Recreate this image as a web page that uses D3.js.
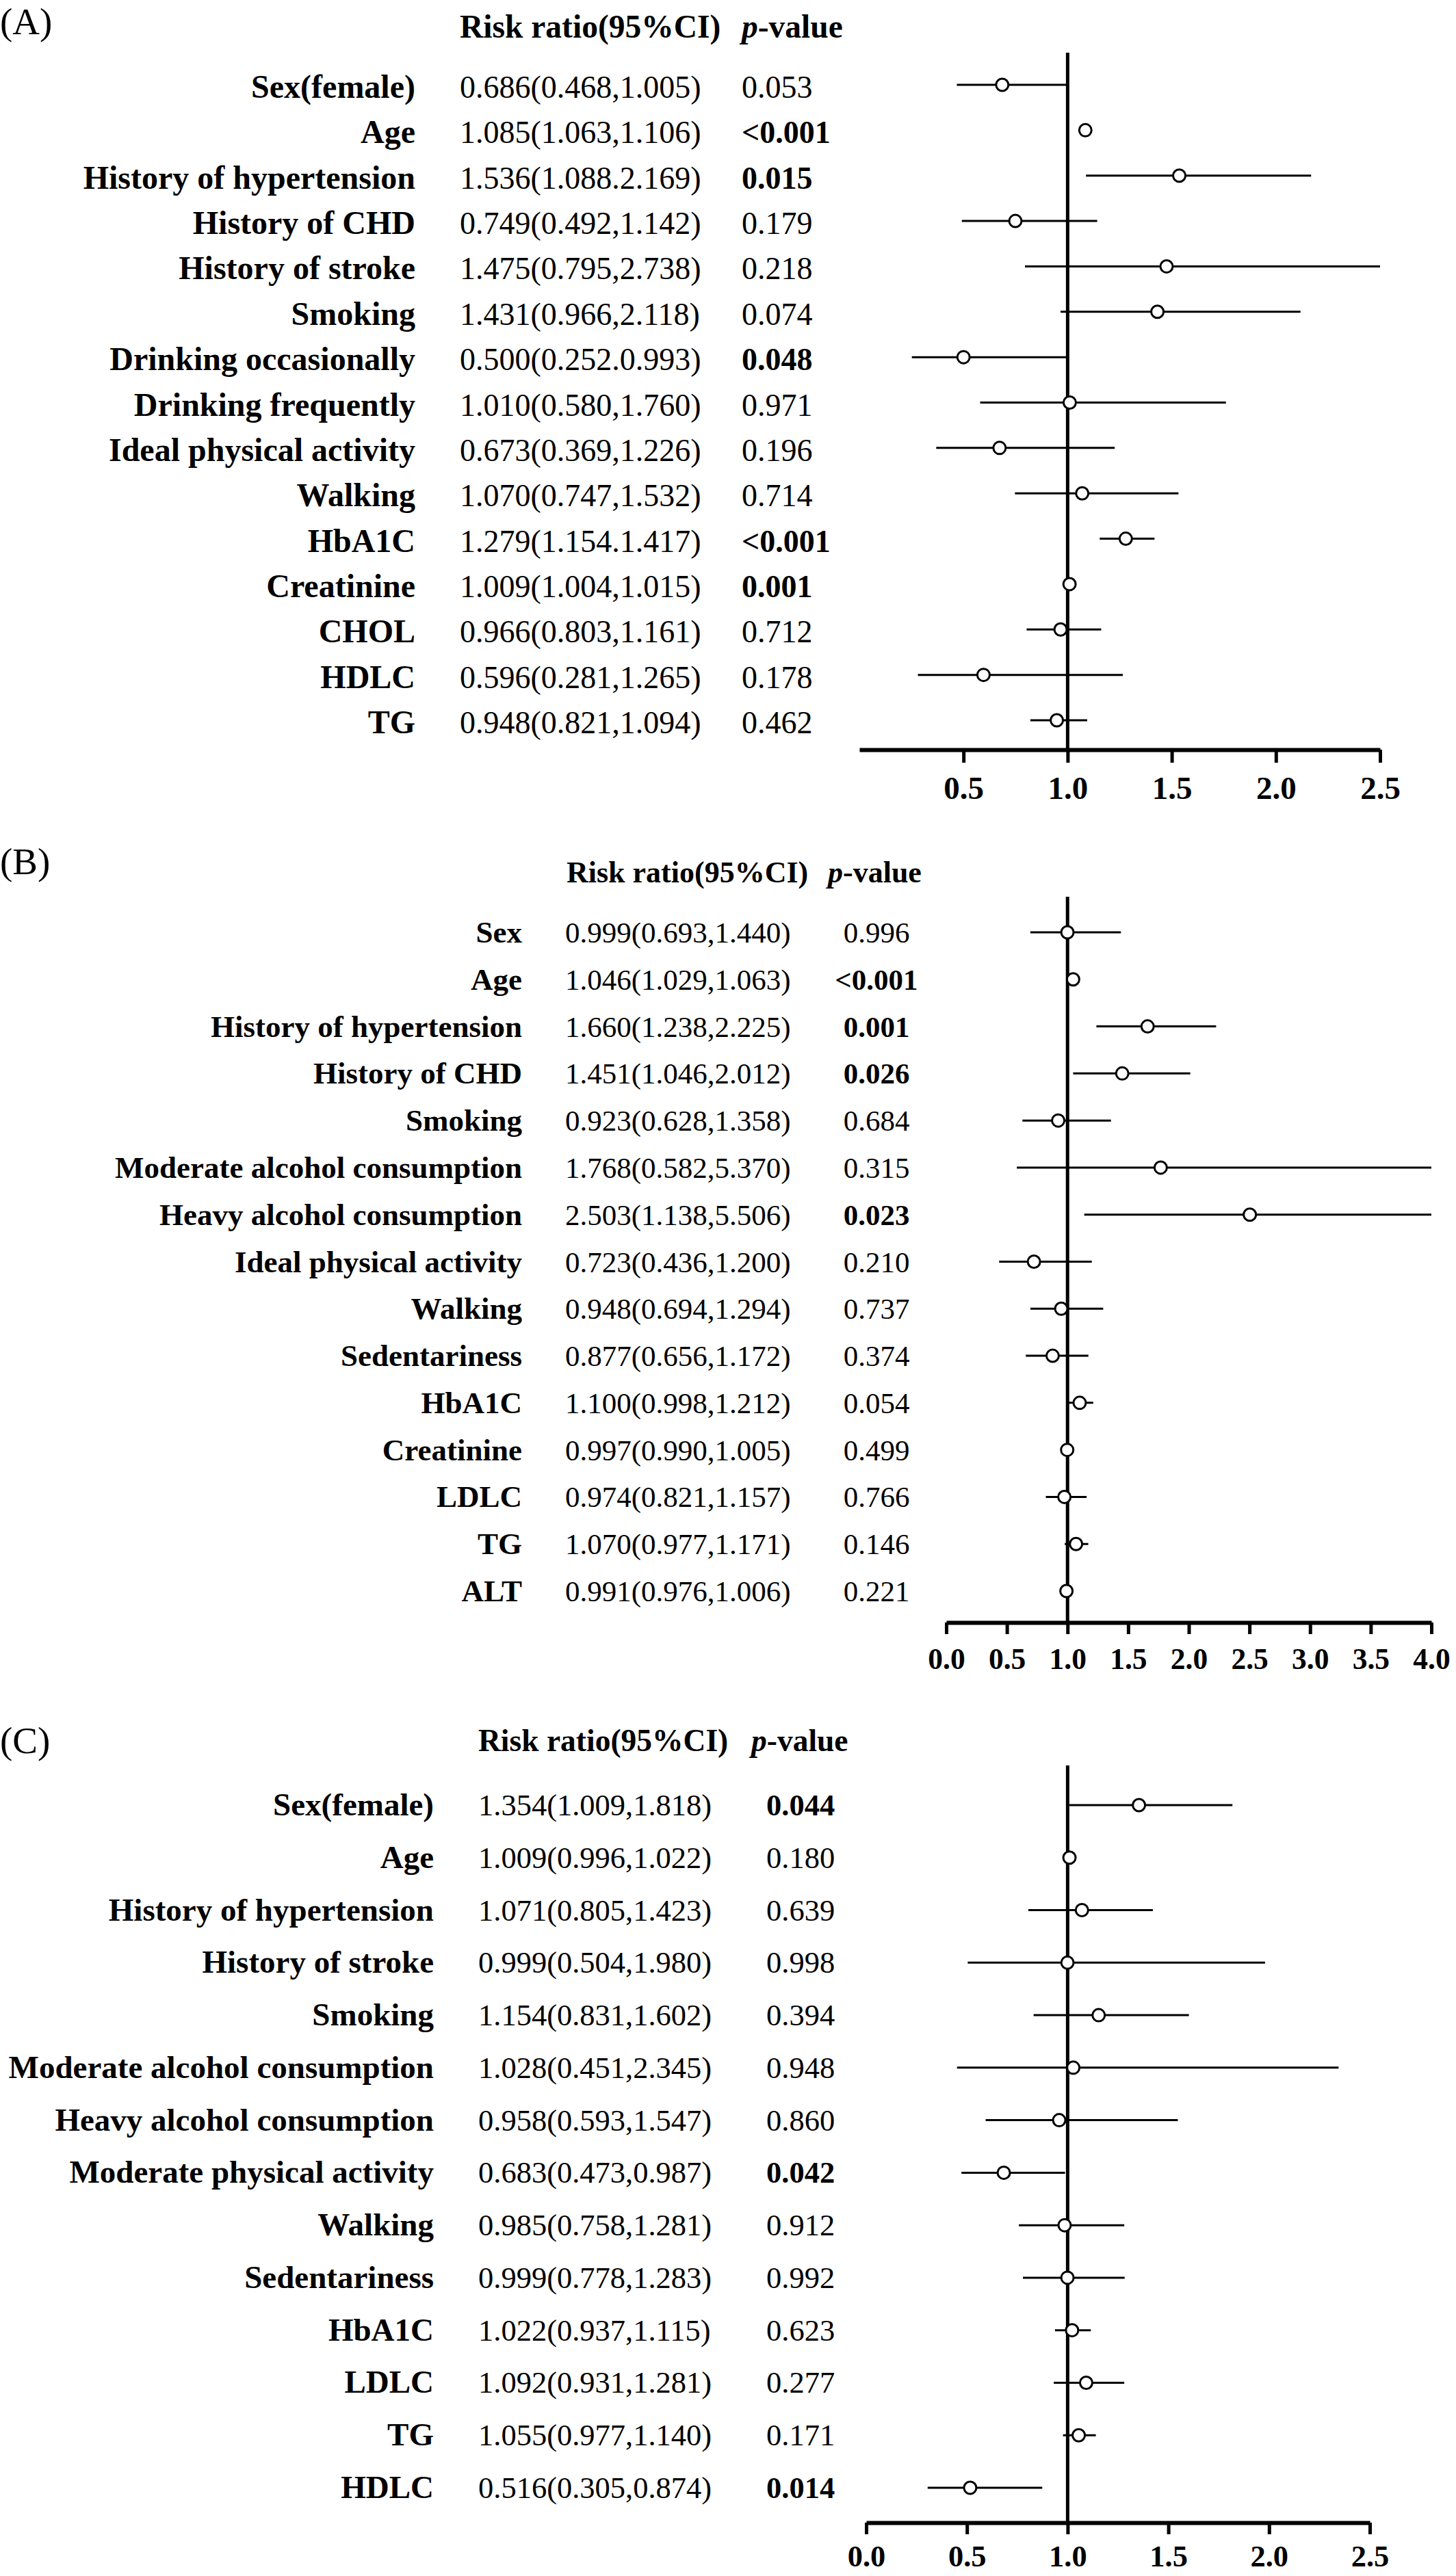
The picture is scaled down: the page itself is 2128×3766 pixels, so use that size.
<!DOCTYPE html>
<html>
<head>
<meta charset="utf-8">
<script src="https://cdn.jsdelivr.net/npm/d3@7/dist/d3.min.js"></script>
<style>
  body { margin: 0; background: #fff; }
  text { font-family: "Liberation Serif", "Times New Roman", serif; fill: #000; }
</style>
</head>
<body>
<div id="chartDiv"></div>
<script>
// ---- panel A data ----
const aLabels = ["Sex(female)", "Age", "History of hypertension", "History of CHD", "History of stroke",
  "Smoking", "Drinking occasionally", "Drinking frequently", "Ideal physical activity", "Walking",
  "HbA1C", "Creatinine", "CHOL", "HDLC", "TG"];
const aRR = [0.686, 1.085, 1.536, 0.749, 1.475, 1.431, 0.500, 1.010, 0.673, 1.070, 1.279, 1.009, 0.966, 0.596, 0.948];
const aLow = [0.468, 1.063, 1.088, 0.492, 0.795, 0.966, 0.252, 0.580, 0.369, 0.747, 1.154, 1.004, 0.803, 0.281, 0.821];
const aHigh = [1.005, 1.106, 2.169, 1.142, 2.738, 2.118, 0.993, 1.760, 1.226, 1.532, 1.417, 1.015, 1.161, 1.265, 1.094];
const aCI = ["0.686(0.468,1.005)", "1.085(1.063,1.106)", "1.536(1.088.2.169)", "0.749(0.492,1.142)",
  "1.475(0.795,2.738)", "1.431(0.966,2.118)", "0.500(0.252.0.993)", "1.010(0.580,1.760)",
  "0.673(0.369,1.226)", "1.070(0.747,1.532)", "1.279(1.154.1.417)", "1.009(1.004,1.015)",
  "0.966(0.803,1.161)", "0.596(0.281,1.265)", "0.948(0.821,1.094)"];
const aP = ["0.053", "<0.001", "0.015", "0.179", "0.218", "0.074", "0.048", "0.971", "0.196", "0.714",
  "<0.001", "0.001", "0.712", "0.178", "0.462"];
const aBold = [false, true, true, false, false, false, true, false, false, false, true, true, false, false, false];
const aTicks = [0.5, 1.0, 1.5, 2.0, 2.5];

// ---- panel B data ----
const bLabels = ["Sex", "Age", "History of hypertension", "History of CHD", "Smoking",
  "Moderate alcohol consumption", "Heavy alcohol consumption", "Ideal physical activity", "Walking",
  "Sedentariness", "HbA1C", "Creatinine", "LDLC", "TG", "ALT"];
const bRR = [0.999, 1.046, 1.660, 1.451, 0.923, 1.768, 2.503, 0.723, 0.948, 0.877, 1.100, 0.997, 0.974, 1.070, 0.991];
const bLow = [0.693, 1.029, 1.238, 1.046, 0.628, 0.582, 1.138, 0.436, 0.694, 0.656, 0.998, 0.990, 0.821, 0.977, 0.976];
const bHigh = [1.440, 1.063, 2.225, 2.012, 1.358, 5.370, 5.506, 1.200, 1.294, 1.172, 1.212, 1.005, 1.157, 1.171, 1.006];
const bCI = ["0.999(0.693,1.440)", "1.046(1.029,1.063)", "1.660(1.238,2.225)", "1.451(1.046,2.012)",
  "0.923(0.628,1.358)", "1.768(0.582,5.370)", "2.503(1.138,5.506)", "0.723(0.436,1.200)",
  "0.948(0.694,1.294)", "0.877(0.656,1.172)", "1.100(0.998,1.212)", "0.997(0.990,1.005)",
  "0.974(0.821,1.157)", "1.070(0.977,1.171)", "0.991(0.976,1.006)"];
const bP = ["0.996", "<0.001", "0.001", "0.026", "0.684", "0.315", "0.023", "0.210", "0.737", "0.374",
  "0.054", "0.499", "0.766", "0.146", "0.221"];
const bBold = [false, true, true, true, false, false, true, false, false, false, false, false, false, false, false];
const bTicks = [0.0, 0.5, 1.0, 1.5, 2.0, 2.5, 3.0, 3.5, 4.0];

// ---- panel C data ----
const cLabels = ["Sex(female)", "Age", "History of hypertension", "History of stroke", "Smoking",
  "Moderate alcohol consumption", "Heavy alcohol consumption", "Moderate physical activity", "Walking",
  "Sedentariness", "HbA1C", "LDLC", "TG", "HDLC"];
const cRR = [1.354, 1.009, 1.071, 0.999, 1.154, 1.028, 0.958, 0.683, 0.985, 0.999, 1.022, 1.092, 1.055, 0.516];
const cLow = [1.009, 0.996, 0.805, 0.504, 0.831, 0.451, 0.593, 0.473, 0.758, 0.778, 0.937, 0.931, 0.977, 0.305];
const cHigh = [1.818, 1.022, 1.423, 1.980, 1.602, 2.345, 1.547, 0.987, 1.281, 1.283, 1.115, 1.281, 1.140, 0.874];
const cCI = ["1.354(1.009,1.818)", "1.009(0.996,1.022)", "1.071(0.805,1.423)", "0.999(0.504,1.980)",
  "1.154(0.831,1.602)", "1.028(0.451,2.345)", "0.958(0.593,1.547)", "0.683(0.473,0.987)",
  "0.985(0.758,1.281)", "0.999(0.778,1.283)", "1.022(0.937,1.115)", "1.092(0.931,1.281)",
  "1.055(0.977,1.140)", "0.516(0.305,0.874)"];
const cP = ["0.044", "0.180", "0.639", "0.998", "0.394", "0.948", "0.860", "0.042", "0.912", "0.992",
  "0.623", "0.277", "0.171", "0.014"];
const cBold = [true, false, false, false, false, false, false, true, false, false, false, false, false, true];
const cTicks = [0.0, 0.5, 1.0, 1.5, 2.0, 2.5];

const W = 2128, H = 3766;
const svg = d3.select("#chartDiv").append("svg")
  .attr("width", W).attr("height", H)
  .attr("viewBox", [0, 0, W, H]);
svg.append("rect").attr("width", W).attr("height", H).attr("fill", "#fff");

// layout of each panel (pixels)
const panels = [
  { letter: "(A)", letterY: 50, headY: 55, ciHeadX: 672, pHeadX: 1084,
    labelX: 607, ciX: 672, pX: 1084, pAnchor: "start",
    rowTop: 124, rowBottom: 1053, textDy: 19,
    refTop: 77, axisY: 1096, range: [1256, 2017], domain: [0, 2.5],
    tickLen: 19, tickPad: 20, fs: 46, fsLab: 48, fsHead: 47.5, fsTick: 47,
    labels: aLabels, rr: aRR, lo: aLow, hi: aHigh, ci: aCI, p: aP, bold: aBold, ticks: aTicks },
  { letter: "(B)", letterY: 1278, headY: 1290, ciHeadX: 828, pHeadX: 1210,
    labelX: 763, ciX: 826, pX: 1281, pAnchor: "middle",
    rowTop: 1363, rowBottom: 2326, textDy: 15,
    refTop: 1311, axisY: 2372, range: [1383, 2092], domain: [0, 4],
    tickLen: 17, tickPad: 20, fs: 43, fsLab: 45, fsHead: 44, fsTick: 43.5,
    labels: bLabels, rr: bRR, lo: bLow, hi: bHigh, ci: bCI, p: bP, bold: bBold, ticks: bTicks },
  { letter: "(C)", letterY: 2563, headY: 2560, ciHeadX: 699, pHeadX: 1098,
    labelX: 634, ciX: 699, pX: 1120, pAnchor: "start",
    rowTop: 2639, rowBottom: 3637, textDy: 15,
    refTop: 2581, axisY: 3688, range: [1266, 2002], domain: [0, 2.5],
    tickLen: 17, tickPad: 15, fs: 44.5, fsLab: 47, fsHead: 45.5, fsTick: 44.5,
    labels: cLabels, rr: cRR, lo: cLow, hi: cHigh, ci: cCI, p: cP, bold: cBold, ticks: cTicks }
];

panels.forEach(function(P) {
  const g = svg.append("g");
  const n = P.labels.length;
  const idx = d3.range(n);

  const x = d3.scaleLinear().domain(P.domain).range(P.range);
  const y = d3.scalePoint().domain(idx).range([P.rowTop, P.rowBottom]);
  const clamp = v => Math.max(P.domain[0], Math.min(P.domain[1], v));

  // panel letter and column headers
  g.append("text").attr("x", 0).attr("y", P.letterY)
    .style("font-size", "55px").text(P.letter);
  g.append("text").attr("x", P.ciHeadX).attr("y", P.headY)
    .style("font-size", P.fsHead + "px").style("font-weight", "bold")
    .text("Risk ratio(95%CI)");
  const ph = g.append("text").attr("x", P.pHeadX).attr("y", P.headY)
    .style("font-size", P.fsHead + "px").style("font-weight", "bold");
  ph.append("tspan").style("font-style", "italic").text("p");
  ph.append("tspan").text("-value");

  // row labels
  g.selectAll(".lab").data(idx).join("text")
    .attr("class", "lab")
    .attr("x", P.labelX).attr("y", d => y(d) + P.textDy)
    .attr("text-anchor", "end")
    .style("font-size", P.fsLab + "px").style("font-weight", "bold")
    .text(d => P.labels[d]);

  g.selectAll(".ci").data(idx).join("text")
    .attr("class", "ci")
    .attr("x", P.ciX).attr("y", d => y(d) + P.textDy)
    .style("font-size", P.fs + "px")
    .text(d => P.ci[d]);

  g.selectAll(".pv").data(idx).join("text")
    .attr("class", "pv")
    .attr("x", P.pX).attr("y", d => y(d) + P.textDy)
    .attr("text-anchor", P.pAnchor)
    .style("font-size", P.fs + "px")
    .style("font-weight", d => P.bold[d] ? "bold" : "normal")
    .text(d => P.p[d]);

  // x axis
  const axis = g.append("g")
    .attr("transform", "translate(0," + P.axisY + ")")
    .call(d3.axisBottom(x).tickValues(P.ticks).tickFormat(d3.format(".1f"))
      .tickSize(P.tickLen).tickSizeOuter(0).tickPadding(P.tickPad));
  axis.select(".domain").attr("stroke", "#000").attr("stroke-width", 6);
  axis.selectAll(".tick line").attr("stroke", "#000").attr("stroke-width", 5);
  axis.selectAll(".tick text")
    .attr("fill", "#000")
    .style("font-family", '"Liberation Serif", serif')
    .style("font-size", P.fsTick + "px").style("font-weight", "bold");

  // confidence intervals
  g.selectAll(".cil").data(idx).join("line")
    .attr("class", "cil")
    .attr("x1", d => x(clamp(P.lo[d]))).attr("x2", d => x(clamp(P.hi[d])))
    .attr("y1", d => y(d)).attr("y2", d => y(d))
    .attr("stroke", "#000").attr("stroke-width", 3);

  // reference line at 1
  g.append("line")
    .attr("x1", x(1)).attr("x2", x(1))
    .attr("y1", P.refTop).attr("y2", P.axisY)
    .attr("stroke", "#000").attr("stroke-width", 5);

  // point estimates
  g.selectAll(".pt").data(idx).join("circle")
    .attr("class", "pt")
    .attr("cx", d => x(P.rr[d])).attr("cy", d => y(d))
    .attr("r", 9)
    .attr("fill", "#fff").attr("stroke", "#000").attr("stroke-width", 3);
});
</script>
</body>
</html>
